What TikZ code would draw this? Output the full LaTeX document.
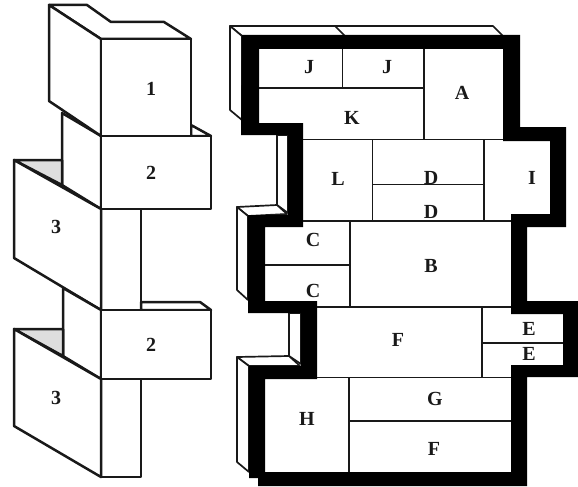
\documentclass[tikz,border=0pt]{standalone}
\usepackage{fontspec}
\setmainfont{Liberation Serif}
\definecolor{shade}{gray}{0.87}
\definecolor{ink}{gray}{0.1}
\tikzset{
  edge3d/.style={draw=ink,line width=2.5pt,line join=round,fill=white},
  shadeface/.style={draw=ink,line width=2.5pt,line join=round,fill=shade},
  side/.style={draw=ink,line width=1.7pt,line join=round,fill=white},
  wall/.style={fill=black,even odd rule},
  room/.style={draw=ink,line width=1.3pt},
  lab/.style={font=\fontsize{20}{20}\selectfont\bfseries,text=ink,inner sep=0pt}
}
\begin{document}
\begin{tikzpicture}[x=1pt,y=-1pt]
\useasboundingbox (0,0) rectangle (578,487);
% left figure
\draw[edge3d] (101,209) rectangle (141,310);
\draw[edge3d] (101,379) rectangle (141,477);
\draw[edge3d] (62,113) -- (62,185) -- (101,209) -- (101,136) -- cycle;
\draw[edge3d] (191,125) -- (211,136) -- (191,136) -- cycle;
\draw[edge3d] (101,136) rectangle (211,209);
\draw[edge3d] (49,5) -- (87,5) -- (111,22) -- (164,22) -- (191,39) -- (101,39) -- cycle;
\draw[edge3d] (49,5) -- (101,39) -- (101,136) -- (49,101) -- cycle;
\draw[edge3d] (101,39) rectangle (191,136);
\draw[shadeface] (14,160) -- (62,160) -- (62,185) -- cycle;
\draw[edge3d] (14,160) -- (101,209) -- (101,310) -- (14,258) -- cycle;
\draw[edge3d] (63,288) -- (63,356) -- (101,379) -- (101,310) -- cycle;
\draw[edge3d] (141,302) -- (200,302) -- (211,310) -- (141,310) -- cycle;
\draw[edge3d] (101,310) rectangle (211,379);
\draw[shadeface] (14,329) -- (63,329) -- (63,356) -- cycle;
\draw[edge3d] (14,329) -- (101,379) -- (101,477) -- (14,426) -- cycle;
\node[lab] (n1) at (151,89) {1};
\node[lab] (n2a) at (151,173) {2};
\node[lab] (n3a) at (56,227) {3};
\node[lab] (n2b) at (151,345) {2};
\node[lab] (n3b) at (56,398) {3};
% right figure: side faces
\draw[side] (230,26) -- (335,26) -- (493,26) -- (503,36) -- (242,36) -- cycle;
\draw[side] (335,26) -- (345,36);
\draw[side] (230,26) -- (242,36) -- (242,120) -- (230,110) -- cycle;
\draw[side] (277,135) -- (288,135) -- (288,213) -- (277,205) -- cycle;
\draw[side] (237,207) -- (277,205) -- (287,214) -- (248,216) -- cycle;
\draw[side] (237,207) -- (248,216) -- (248,300) -- (237,290) -- cycle;
\draw[side] (289,313) -- (301,313) -- (301,364) -- (289,356) -- cycle;
\draw[side] (237,357) -- (289,356) -- (300,366) -- (249,366) -- cycle;
\draw[side] (237,357) -- (249,366) -- (249,472) -- (237,462) -- cycle;
% right figure: thick wall
\path[wall]
  (242,35) -- (520,35) -- (520,127) -- (566,127) -- (566,227) -- (527,227) -- (527,301)
  -- (578,301) -- (578,377) -- (527,377) -- (527,486) -- (258,486) -- (258,478) -- (249,478)
  -- (249,366) -- (301,366) -- (301,313) -- (248,313) -- (248,215) -- (288,215) -- (288,135)
  -- (241,135) -- cycle
  (259,49) -- (503,49) -- (503,141) -- (550,141) -- (550,214) -- (511,214) -- (511,314)
  -- (563,314) -- (563,365) -- (511,365) -- (511,472) -- (265,472) -- (265,379) -- (317,379)
  -- (317,301) -- (265,301) -- (265,227) -- (303,227) -- (303,123) -- (259,123) -- cycle;
% rooms
\draw[room] (342.5,49) -- (342.5,88);
\draw[room] (259,88) -- (424,88);
\draw[room] (424,49) -- (424,139.5);
\draw[room] (303,139.5) -- (503,139.5);
\draw[room] (372.5,139.5) -- (372.5,221);
\draw[room] (484,139.5) -- (484,221);
\draw[room] (372.5,184.5) -- (484,184.5);
\draw[room] (303,221) -- (511,221);
\draw[room] (350,221) -- (350,307);
\draw[room] (265,265) -- (350,265);
\draw[room] (317,307) -- (511,307);
\draw[room] (482,307) -- (482,377.5);
\draw[room] (482,343) -- (563,343);
\draw[room] (317,377.5) -- (511,377.5);
\draw[room] (349,377.5) -- (349,472);
\draw[room] (349,421) -- (511,421);
\node[lab] (j1) at (309,67) {J};
\node[lab] (j2) at (387,67) {J};
\node[lab] (a) at (462,93) {A};
\node[lab] (k) at (352,118) {K};
\node[lab] (l) at (338,179) {L};
\node[lab] (d1) at (431,178) {D};
\node[lab] (i) at (532,178) {I};
\node[lab] (d2) at (431,212) {D};
\node[lab] (c1) at (313,240) {C};
\node[lab] (b) at (431,266) {B};
\node[lab] (c2) at (313,291) {C};
\node[lab] (f1) at (398,340) {F};
\node[lab] (e1) at (529,329) {E};
\node[lab] (e2) at (529,354) {E};
\node[lab] (g) at (435,399) {G};
\node[lab] (h) at (307,419) {H};
\node[lab] (f2) at (434,449) {F};
\end{tikzpicture}
\end{document}
